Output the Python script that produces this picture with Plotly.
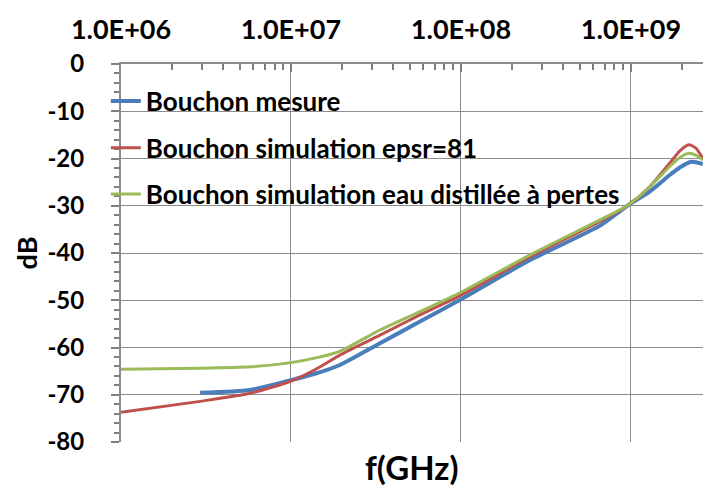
import plotly.graph_objects as go

# ---- data ----
freq_mesure = [2.92e6, 5.74e6, 1.0e7, 1.4e7, 1.94e7, 3.34e7, 5.74e7, 1.0e8, 2.55e8, 6.58e8,
               9.6e8, 1.29e9, 1.69e9, 1.94e9, 2.27e9, 2.41e9, 2.65e9]
db_mesure = [-69.6, -69.0, -66.9, -65.5, -63.7, -59.1, -54.5, -49.8, -41.5, -34.2,
             -29.9, -27.0, -23.5, -21.9, -20.7, -20.8, -21.2]

freq_eps81 = [1.0e6, 2.92e6, 5.74e6, 1.0e7, 1.4e7, 1.94e7, 3.34e7, 5.74e7, 1.0e8, 2.55e8, 6.58e8,
              9.6e8, 1.29e9, 1.69e9, 1.94e9, 2.19e9, 2.41e9, 2.65e9]
db_eps81 = [-73.7, -71.4, -69.7, -67.1, -64.6, -61.6, -57.4, -53.1, -48.9, -40.8, -33.3,
            -29.9, -26.0, -21.0, -18.4, -17.1, -17.8, -20.0]

freq_eau = [1.0e6, 2.92e6, 5.74e6, 1.0e7, 1.4e7, 1.94e7, 3.34e7, 5.74e7, 1.0e8, 2.55e8, 6.58e8,
            9.6e8, 1.29e9, 1.69e9, 1.94e9, 2.19e9, 2.41e9, 2.65e9]
db_eau = [-64.6, -64.4, -64.1, -63.2, -62.2, -60.8, -56.3, -52.4, -48.3, -40.4, -33.0,
          -29.9, -26.0, -21.7, -19.8, -18.9, -19.3, -20.3]

x_tick_vals = [1e6, 1e7, 1e8, 1e9]
x_tick_text = ["1.0E+06", "1.0E+07", "1.0E+08", "1.0E+09"]
y_tick_vals = [0, -10, -20, -30, -40, -50, -60, -70, -80]
y_tick_text = ["0", "-10", "-20", "-30", "-40", "-50", "-60", "-70", "-80"]

series_names = ["Bouchon mesure", "Bouchon simulation epsr=81",
                "Bouchon simulation eau distillée à pertes"]
series_colors = ["#4A7EBB", "#C0504D", "#9BBB59"]

FONT = "Lato"
fig = go.Figure()
for i, (fx, fy) in enumerate([(freq_mesure, db_mesure), (freq_eps81, db_eps81), (freq_eau, db_eau)]):
    fig.add_trace(go.Scatter(
        x=fx, y=fy, mode="lines", name=series_names[i], showlegend=True,
        line=dict(color=series_colors[i], width=4 if i == 0 else 3, shape="spline", smoothing=0.6),
        legend="legend" if i == 0 else f"legend{i+1}",
    ))

legend_y = [0.902, 0.778, 0.656]
common_legend = dict(x=-0.026, xanchor="left", yanchor="middle", bgcolor="rgba(0,0,0,0)",
                     font=dict(family=FONT, size=26, color="#000000", weight="bold"),
                     itemwidth=30)
fig.update_layout(
    showlegend=True,
    legend=dict(y=legend_y[0], **common_legend),
    legend2=dict(y=legend_y[1], **common_legend),
    legend3=dict(y=legend_y[2], **common_legend),
)

fig.update_layout(
    width=703, height=488,
    margin=dict(l=121, r=0, t=64, b=46, autoexpand=False),
    paper_bgcolor="white", plot_bgcolor="white",
    font=dict(family=FONT, color="#000000"),
    xaxis=dict(
        type="log", side="top", range=[6, 9.424], automargin=False,
        tickvals=x_tick_vals, ticktext=x_tick_text,
        tickfont=dict(family=FONT, size=27, weight="bold", color="#000000"),
        ticks="inside", ticklen=8, tickcolor="#7f7f7f", tickwidth=2,
        minor=dict(ticks="inside", ticklen=6, tickcolor="#7f7f7f", dtick="D1", showgrid=False),
        showgrid=True, gridcolor="#8c8c8c", gridwidth=1,
        showline=True, linecolor="#8c8c8c", linewidth=2,
        ticklabelstandoff=12, zeroline=False,
    ),
    yaxis=dict(
        range=[-80, 0], tickvals=y_tick_vals, ticktext=y_tick_text, automargin=False,
        tickfont=dict(family=FONT, size=24, weight="bold", color="#000000"),
        ticks="outside", ticklen=8, tickcolor="#7f7f7f", tickwidth=2,
        minor=dict(ticks="outside", ticklen=5, dtick=2, tickcolor="#7f7f7f", showgrid=False),
        showgrid=True, gridcolor="#8c8c8c", gridwidth=1,
        showline=True, linecolor="#8c8c8c", linewidth=2, mirror=False,
        ticklabelstandoff=22, zeroline=False,
        title=dict(text="dB", font=dict(family=FONT, size=27, weight="bold", color="#000000"),
                   standoff=2),
    ),
)
fig.add_annotation(text="f(GHz)", xref="paper", yref="paper", x=0.5, y=0,
                   yanchor="middle", yshift=-25, showarrow=False,
                   font=dict(family=FONT, size=33, weight="bold", color="#000000"))

fig.write_html("out.html",
               config={"displayModeBar": False},
               post_script="document.body.style.margin='0px';document.body.style.overflow='hidden';")
